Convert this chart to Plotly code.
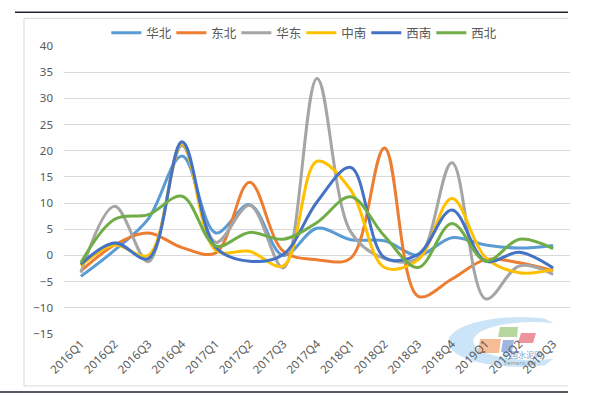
import math
import plotly.graph_objects as go

categories = ["2016Q1", "2016Q2", "2016Q3", "2016Q4", "2017Q1", "2017Q2", "2017Q3", "2017Q4",
              "2018Q1", "2018Q2", "2018Q3", "2018Q4", "2019Q1", "2019Q2", "2019Q3"]

huabei = [-4, 1, 7, 19, 4.3, 9.7, 0, 5.2, 3, 2.8, 0, 3.4, 2, 1.4, 1.9]
dongbei = [-3, 2, 4.3, 1.5, 0.5, 14, 0.8, -0.8, -0.5, 20.5, -7.8, -4.5, -0.8, -1.4, -2.9]
huadong = [-3.3, 9.4, -1.2, 21, 2.5, 9.6, -2.4, 33.8, 4.5, -0.6, -0.5, 17.7, -8.3, -2, -3.6]
zhongnan = [-2, 2, 0, 21.4, 1, 0.8, -2, 18, 12.5, -2.3, -0.8, 10.9, -0.4, -3.3, -2.7]
xinan = [-1.7, 2.4, -0.6, 21.7, 1.5, -1.1, 0.2, 10.2, 16.8, -0.4, 0.2, 8.7, -1.1, 0.6, -2.4]
xibei = [-1.4, 6.9, 7.8, 11.3, 1.8, 4.4, 3.1, 6.3, 11.2, 3.7, -2.3, 6.1, -1.1, 3.1, 1.3]

series = [
    ("华北", huabei, "#5B9BD5"),
    ("东北", dongbei, "#ED7D31"),
    ("华东", huadong, "#A5A5A5"),
    ("中南", zhongnan, "#FFC000"),
    ("西南", xinan, "#4472C4"),
    ("西北", xibei, "#70AD47"),
]

FONT = "Noto Sans, Noto Sans CJK SC, sans-serif"

fig = go.Figure()
for name, vals, color in series:
    fig.add_trace(go.Scatter(
        x=categories, y=vals, name=name, mode="lines",
        line=dict(color=color, width=3, shape="spline", smoothing=1.0),
    ))

W, H = 609, 399
L, R, T, B = 64, 570, 45.7, 334

def px(x):
    return (x - L) / (R - L)

def py(y):
    return (B - y) / (B - T)

def pline(x0, y0, x1, y1, color, width):
    return dict(type="line", xref="paper", yref="paper", x0=px(x0), x1=px(x1), y0=py(y0), y1=py(y1),
                line=dict(color=color, width=width), layer="below")

# watermark crescent (page decoration)
pts = []
for k in range(0, 23):
    a = math.radians(70 + k * 10)
    pts.append((520 + 72 * math.cos(a), 342 - 25 * math.sin(a)))
for k in range(22, -1, -1):
    a = math.radians(70 + k * 10)
    pts.append((533 + 60 * math.cos(a), 341 - 19 * math.sin(a)))
crescent = "M " + " L ".join(f"{px(x):.4f},{py(y):.4f}" for x, y in pts) + " Z"

shapes = [
    # light chart frame
    pline(24, 18, 568, 18, "#D9D9D9", 1),
    pline(24, 18, 24, 386, "#D9D9D9", 1),
    pline(24, 386, 568, 386, "#D9D9D9", 1),
    # dark rules (page decoration)
    pline(15, 12, 568, 12, "#1F2330", 1.5),
    pline(0, 392, 568, 392, "#1F2330", 1.5),
    dict(type="path", xref="paper", yref="paper", path=crescent,
         fillcolor="rgba(160,205,240,0.55)", line=dict(width=0), layer="below"),
    dict(type="path", xref="paper", yref="paper",
         path=f"M {px(478)},{py(353)} L {px(499)},{py(353)} L {px(501)},{py(339)} L {px(480)},{py(339)} Z",
         fillcolor="rgba(244,177,131,0.85)", line=dict(width=0), layer="below"),
    dict(type="path", xref="paper", yref="paper",
         path=f"M {px(501)},{py(352)} L {px(512)},{py(352)} L {px(514)},{py(340)} L {px(503)},{py(340)} Z",
         fillcolor="rgba(142,169,219,0.85)", line=dict(width=0), layer="below"),
    dict(type="path", xref="paper", yref="paper",
         path=f"M {px(498)},{py(337)} L {px(517)},{py(337)} L {px(518)},{py(327)} L {px(500)},{py(327)} Z",
         fillcolor="rgba(169,209,142,0.85)", line=dict(width=0), layer="below"),
    dict(type="path", xref="paper", yref="paper",
         path=f"M {px(518)},{py(343)} L {px(533)},{py(343)} L {px(536)},{py(333)} L {px(521)},{py(333)} Z",
         fillcolor="rgba(232,120,130,0.8)", line=dict(width=0), layer="below"),
]

annotations = [
    dict(xref="paper", yref="paper", x=px(522), y=py(355), text="中国水泥网", showarrow=False,
         font=dict(size=8, color="rgba(46,117,182,0.7)", family=FONT), xanchor="center", yanchor="middle"),
    dict(xref="paper", yref="paper", x=px(520), y=py(363), text="cement.net", showarrow=False,
         font=dict(size=6, color="rgba(90,90,90,0.6)", family=FONT), xanchor="center", yanchor="middle"),
]

fig.update_layout(
    width=W, height=H,
    margin=dict(l=L, r=W - R, t=T, b=H - B),
    paper_bgcolor="white", plot_bgcolor="white",
    font=dict(family=FONT, size=12, color="#595959"),
    showlegend=True,
    legend=dict(orientation="h", x=0.469, xanchor="center", y=1.045, yanchor="middle",
                font=dict(size=12.5, color="#595959"), itemwidth=30, entrywidth=20,
                bgcolor="rgba(0,0,0,0)"),
    xaxis=dict(type="category", tickangle=-45, showgrid=False, showline=False, zeroline=False,
               ticks="", tickfont=dict(size=11.5, color="#595959"), range=[-0.5, 14.5]),
    yaxis=dict(range=[-15, 40], dtick=5, tick0=0, showgrid=True, gridcolor="#D9D9D9", gridwidth=1,
               zeroline=False, showline=False, ticks="", ticklabelstandoff=10,
               tickfont=dict(size=11.5, color="#595959")),
    shapes=shapes,
    annotations=annotations,
)

fig.write_html("out.html", config={"displayModeBar": False},
               post_script="document.body.style.margin='0';document.body.style.overflow='hidden';")
